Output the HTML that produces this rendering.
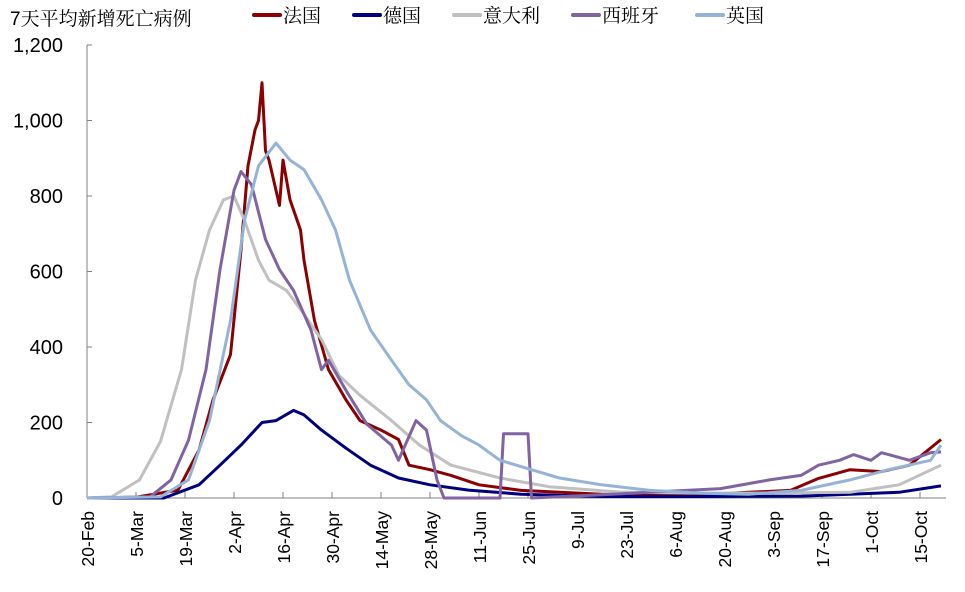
<!DOCTYPE html>
<html><head><meta charset="utf-8"><style>
body{margin:0;background:#fff;}
svg{display:block;font-family:"Liberation Sans","Noto Sans CJK SC",sans-serif;}
</style></head><body>
<svg id="chart" width="965" height="592"></svg>
<script>
const xTickLabels=["20-Feb","5-Mar","19-Mar","2-Apr","16-Apr","30-Apr","14-May","28-May","11-Jun","25-Jun","9-Jul","23-Jul","6-Aug","20-Aug","3-Sep","17-Sep","1-Oct","15-Oct"];
const yTicks=[0,200,400,600,800,1000,1200];
const franceDays=[0,14,26,32,36,41,44,46,48,49,50,51,52,55,56,58,61,62,65,69,74,78,84,89,92,98,104,112,124,147,175,189,201,209,218,227,235,244];
const franceVals=[0,2,21,127,260,380,657,880,975,1000,1100,920,895,775,895,790,710,630,470,340,260,205,180,155,87,75,60,35,20,10,8,15,20,52,75,70,87,155];
const germanyDays=[0,22,32,38,44,50,54,59,62,67,74,81,89,98,109,124,147,175,204,218,232,244];
const germanyVals=[0,0,35,87,140,200,205,232,220,180,132,87,53,35,21,10,4,4,5,10,15,32];
const italyDays=[0,7,15,21,27,31,35,39,42,45,49,52,57,61,67,72,78,87,95,104,118,132,152,175,192,218,232,244];
const italyVals=[0,3,48,150,340,577,710,790,800,735,630,577,550,500,420,325,272,205,140,87,53,30,16,13,13,15,35,87];
const spainDays=[0,18,24,29,34,38,42,44,47,51,55,59,64,67,69,74,80,87,89,94,97,100,102,118,119,126,127,150,181,195,204,209,215,219,224,227,235,241,244];
const spainVals=[0,3,48,153,340,605,815,865,830,685,605,550,445,340,365,285,195,140,100,205,180,48,0,0,170,170,0,10,25,48,60,87,100,115,100,120,100,120,122];
const ukDays=[0,21,29,35,41,45,49,54,58,62,67,71,75,81,87,92,97,101,107,112,118,127,135,147,161,175,189,204,218,229,241,244];
const ukVals=[0,3,48,205,470,735,880,940,895,870,790,710,577,445,365,300,260,205,165,140,100,75,53,35,20,13,10,20,48,75,100,140];
const seriesNames=["法国","德国","意大利","西班牙","英国"];
const seriesColors=["#8B0000","#00007F","#C0C0C0","#8064A2","#95B3D7"];
const seriesDays=[franceDays,germanyDays,italyDays,spainDays,ukDays];
const seriesVals=[franceVals,germanyVals,italyVals,spainVals,ukVals];
const seriesKeys=["france","germany","italy","spain","uk"];

const NS="http://www.w3.org/2000/svg";
const svg=document.getElementById("chart");
const X0=87,PXD=3.5,Y0=498,YT=45,YMAX=1200;
const xs=d=>X0+d*PXD;
const ys=v=>Y0-(v/YMAX)*(Y0-YT);
function mk(tag,attrs,parent){const e=document.createElementNS(NS,tag);for(const k in attrs)e.setAttribute(k,attrs[k]);(parent||svg).appendChild(e);return e;}

let ax=mk("line",{x1:X0,y1:YT,x2:X0,y2:Y0,stroke:"#808080","stroke-width":1});


let bx=mk("line",{x1:X0,y1:Y0,x2:946,y2:Y0,stroke:"#808080","stroke-width":1});


yTicks.forEach(v=>{
  const t=mk("text",{x:X0-24,y:ys(v)+7,"text-anchor":"end","font-size":"20"});
  t.textContent=v.toLocaleString("en-US");
  
  
  mk("line",{x1:X0,y1:ys(v),x2:X0+5,y2:ys(v),stroke:"#808080"});
});
xTickLabels.forEach((l,i)=>{
  const x=xs(i*14);
  mk("line",{x1:x,y1:Y0-6,x2:x,y2:Y0,stroke:"#808080"});
  const t=mk("text",{x:0,y:0,"text-anchor":"end","font-size":"17.5",transform:`translate(${x+7},${Y0+13}) rotate(-90)`});
  t.textContent=l;
  
  
});
seriesDays.forEach((days,i)=>{
  const pts=days.map((d,j)=>xs(d).toFixed(1)+","+ys(seriesVals[i][j]).toFixed(1)).join(" ");
  const p=mk("polyline",{points:pts,fill:"none",stroke:seriesColors[i],"stroke-width":3,"stroke-linejoin":"round"});
  
  
});
const tt=mk("text",{x:10,y:25,"font-size":"19","font-family":"\"Liberation Sans\",\"Noto Serif CJK SC\",serif"});
tt.textContent="7天平均新增死亡病例";


const legX=[254,354,454,573,697];
seriesNames.forEach((n,i)=>{
  const g=mk("g",{});
  
  
  mk("line",{x1:legX[i],y1:15,x2:legX[i]+26,y2:15,stroke:seriesColors[i],"stroke-width":4,"stroke-linecap":"round"},g);
  const t=mk("text",{x:legX[i]+29,y:22,"font-size":"19","font-family":"\"Noto Serif CJK SC\",serif"},g);
  t.textContent=n;
});
</script>
</body></html>
